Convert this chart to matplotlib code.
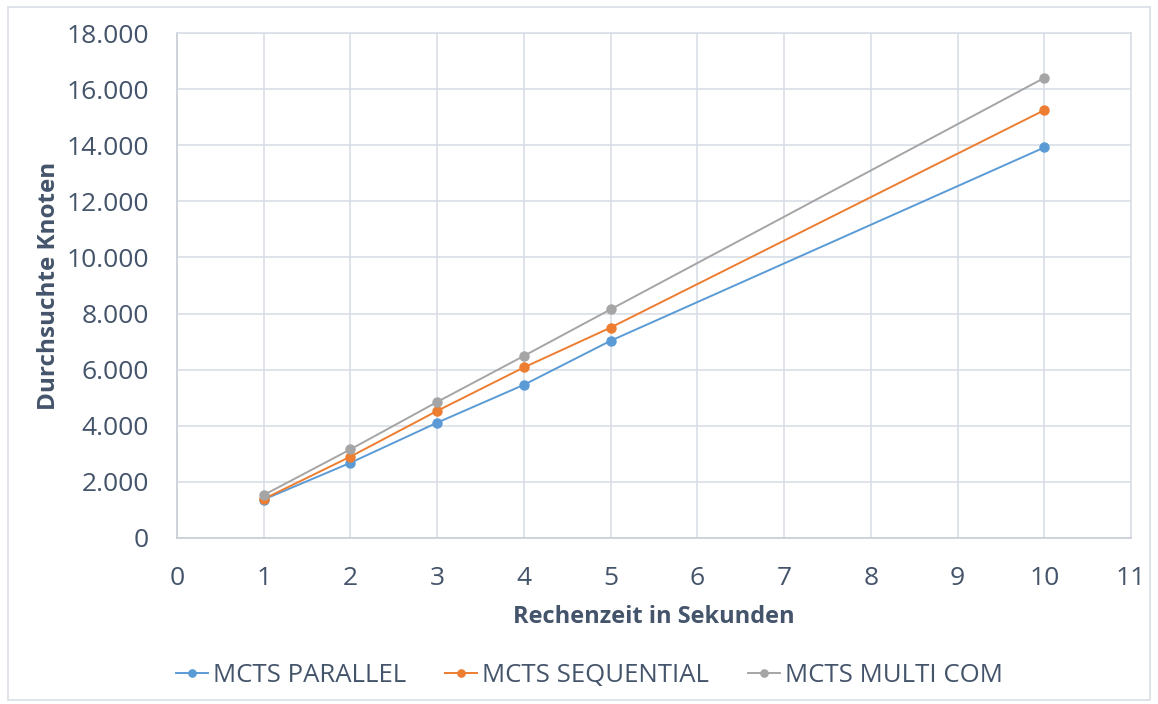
import matplotlib
matplotlib.use("Agg")
import matplotlib.pyplot as plt
from matplotlib.ticker import FuncFormatter, MultipleLocator
from matplotlib.patches import Rectangle

plt.rcParams['font.family'] = ['Open Sans', 'DejaVu Sans']

sekunden = [1, 2, 3, 4, 5, 10]
parallel = [1370, 2680, 4110, 5460, 7030, 13920]
sequential = [1390, 2900, 4530, 6080, 7500, 15250]
multi_com = [1530, 3160, 4850, 6490, 8150, 16400]

serien = [
    ("MCTS PARALLEL", parallel, "#5B9BD5"),
    ("MCTS SEQUENTIAL", sequential, "#ED7D31"),
    ("MCTS MULTI COM", multi_com, "#A5A5A5"),
]

text_farbe = "#44546A"
gitter_farbe = "#D9DEE6"

fig = plt.figure(figsize=(11.58, 7.04), dpi=100)
ax = fig.add_axes([0.1528, 0.2358, 0.8239, 0.7173])

for name, werte, farbe in serien:
    ax.plot(sekunden, werte, color=farbe, lw=1.4, marker="o", ms=6.5, label=name)

ax.set_xlim(0, 11)
ax.set_ylim(0, 18000)
ax.xaxis.set_major_locator(MultipleLocator(1))
ax.yaxis.set_major_locator(MultipleLocator(2000))
ax.yaxis.set_major_formatter(FuncFormatter(lambda v, p: f"{int(v):,}".replace(",", ".")))

ax.grid(True, color=gitter_farbe, lw=1.2)
ax.set_axisbelow(True)
for s in ax.spines.values():
    s.set_color(gitter_farbe)
    s.set_linewidth(1.2)
ax.spines['left'].set_color("#C8CDD6")
ax.spines['bottom'].set_color("#C8CDD6")
ax.tick_params(length=0, labelsize=19, colors=text_farbe)
ax.tick_params(axis="x", pad=20)
ax.tick_params(axis="y", pad=20)

ax.set_xlabel("Rechenzeit in Sekunden", fontsize=17, fontweight="bold", color=text_farbe, labelpad=10)
ax.set_ylabel("Durchsuchte Knoten", fontsize=17.5, fontweight="bold", color=text_farbe, labelpad=4)

leg = fig.legend(loc="center", bbox_to_anchor=(0.509, 0.04), ncol=3, frameon=False,
                 fontsize=18.5, handlelength=1.25, columnspacing=1.5, handletextpad=0.2,
                 markerscale=0.8)
for t in leg.get_texts():
    t.set_color(text_farbe)

# heller Rahmen um die ganze Grafik
fig.patches.append(Rectangle((8 / 1158, 4 / 704), 1142 / 1158, 693 / 704,
                             transform=fig.transFigure, fill=False,
                             edgecolor="#D9DEE6", lw=1.2))

fig.savefig("out.png", dpi=100)
